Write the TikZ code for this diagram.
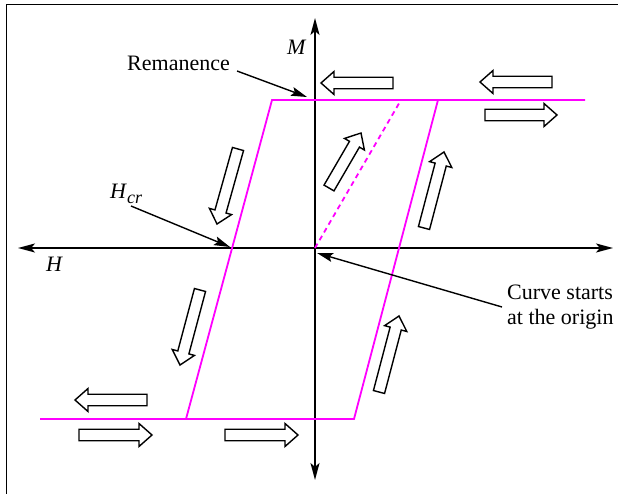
\documentclass[tikz,border=0pt]{standalone}
\usepackage{fontspec}
\setmainfont{Liberation Serif}
\usetikzlibrary{arrows.meta,calc}
\definecolor{mag}{RGB}{255,0,255}
\tikzset{
 axis/.style={line width=2pt,{Stealth[length=17pt,width=9pt,inset=4pt]}-{Stealth[length=17pt,width=9pt,inset=4pt]}},
 loopline/.style={mag,line width=1.8pt,line join=miter},
 dashloop/.style={mag,line width=1.8pt,dash pattern=on 5pt off 4pt},
 leader/.style={line width=1.4pt,-{Stealth[length=16pt,width=9pt,inset=3pt]}},
 blk/.style={draw=black,line width=1.4pt,fill=white,line join=miter},
 lbl/.style={inner sep=0pt,font=\fontsize{22}{25}\selectfont},
 frameline/.style={line width=1.5pt}
}
\newcommand\blockarrow[3]{%
 \coordinate (#1t) at #2;
 \coordinate (#1h) at #3;
 \coordinate (#1b) at ($(#1h)!13pt!(#1t)$);
 \draw[blk] ($(#1t)!5.75pt!90:(#1h)$) -- ($(#1b)!5.75pt!90:(#1h)$) -- ($(#1b)!11.5pt!90:(#1h)$) -- (#1h) -- ($(#1b)!11.5pt!-90:(#1h)$) -- ($(#1b)!5.75pt!-90:(#1h)$) -- ($(#1t)!5.75pt!-90:(#1h)$) -- cycle;
}
\begin{document}
\begin{tikzpicture}[x=1pt,y=-1pt]
\useasboundingbox (0,0) rectangle (618,494);
% frame
\draw[frameline] (6.7,494) -- (6.7,4.7) -- (618,4.7);
% axes
\coordinate (Hl) at (18,248);
\coordinate (Hr) at (613,248);
\coordinate (Mt) at (315,18);
\coordinate (Mb) at (315,480);
\coordinate (O) at (315,248);
\draw[axis] (Hl) -- (Hr);
\draw[axis] (Mt) -- (Mb);
% hysteresis loop
\coordinate (TL) at (272,100);
\coordinate (TRend) at (585,100);
\coordinate (BL) at (186,419);
\coordinate (BLend) at (40,419);
\coordinate (BR) at (354,419);
\coordinate (TR) at (438,100);
\coordinate (D) at (401,100);
\draw[loopline] (BLend) -- (BR) -- (TR);
\draw[loopline] (TRend) -- (TL) -- (BL);
\draw[dashloop] (O) -- (D);
% block arrows
\blockarrow{a1}{(393,83)}{(321,83)}
\blockarrow{a2}{(552,82)}{(480,82)}
\blockarrow{a3}{(485,115)}{(557,115)}
\blockarrow{a4}{(147,400)}{(75,400)}
\blockarrow{a5}{(79,435)}{(152,435)}
\blockarrow{a6}{(225,435)}{(298,435)}
\blockarrow{a7}{(238,149)}{(217,224)}
\blockarrow{a8}{(200,290)}{(180,365)}
\blockarrow{a9}{(329,188)}{(361,133)}
\blockarrow{a10}{(424,228)}{(444,152)}
\blockarrow{a11}{(379,392)}{(399,316)}
% labels
\node[lbl,anchor=base west] (rem) at (127,71) {Remanence};
\node[lbl,anchor=base west] (M) at (287,55) {\textit{M}};
\node[lbl,anchor=base west] (H) at (46,272) {\textit{H}};
\node[lbl,anchor=base west] (Hcr) at (110,199) {\textit{H}\raisebox{-5pt}{\fontsize{18}{20}\selectfont\textit{cr}}};
\node[lbl,anchor=base west] (curve1) at (507,299) {Curve starts};
\node[lbl,anchor=base west] (curve2) at (507,324) {at the origin};
% leaders
\coordinate (remS) at (237,71);
\coordinate (remE) at (307,97);
\coordinate (hcrS) at (131,206);
\coordinate (hcrE) at (230,247);
\coordinate (curS) at (502,307);
\coordinate (curE) at (317,253);
\draw[leader] (remS) -- (remE);
\draw[leader] (hcrS) -- (hcrE);
\draw[leader] (curS) -- (curE);
\end{tikzpicture}
\end{document}
